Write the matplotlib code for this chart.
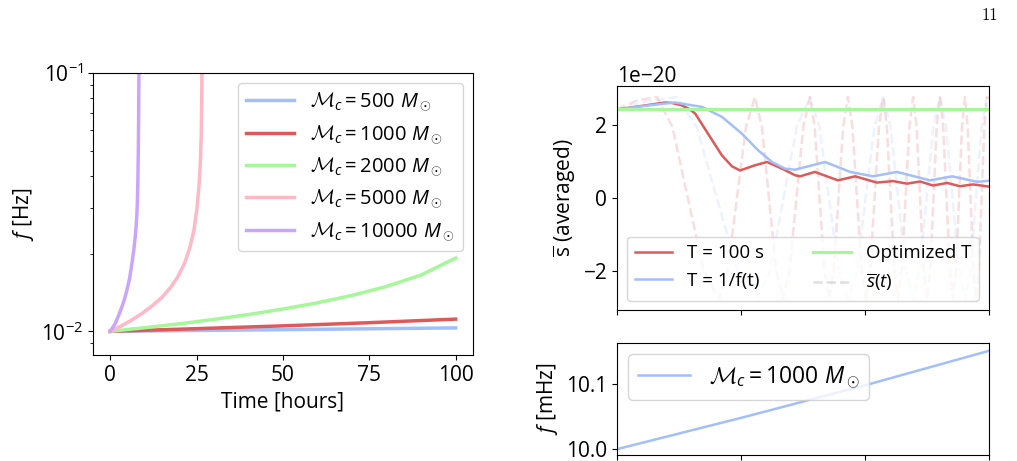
import matplotlib
matplotlib.use("Agg")
import matplotlib.pyplot as plt
from matplotlib.lines import Line2D
from matplotlib.ticker import NullFormatter
import numpy as np

plt.rcParams['font.family'] = ['Open Sans', 'DejaVu Sans']
plt.rcParams['mathtext.fontset'] = 'custom'
plt.rcParams['mathtext.rm'] = 'Open Sans'
plt.rcParams['mathtext.it'] = 'Open Sans:italic'
plt.rcParams['mathtext.bf'] = 'Open Sans:bold'
plt.rcParams['mathtext.cal'] = 'cmsy10'

# left panel: frequency evolution for several chirp masses
masses = [500, 1000, 2000, 5000, 10000]
colors = ['#a3bffa', '#dc5a5a', '#a6f79a', '#ffb8c6', '#c9a6fb']

t_500 = [0, 50, 100]
f_500 = [0.0100, 0.01015, 0.01031]
t_1000 = [0, 25, 50, 75, 100]
f_1000 = [0.0100, 0.01024, 0.01050, 0.01080, 0.01115]
t_2000 = [0, 10, 20, 30, 40, 50, 60, 70, 80, 90, 100]
f_2000 = [0.0100, 0.01033, 0.01069, 0.01112, 0.01161, 0.01220, 0.01289,
          0.01377, 0.01492, 0.01652, 0.01920]
t_5000 = [0, 3, 6, 9, 12, 15, 17.5, 19.5, 21.5, 23, 24.2, 25.1, 25.7, 26.1,
          26.35, 26.5, 26.58]
f_5000 = [0.0100, 0.01046, 0.01101, 0.01168, 0.01250, 0.01355, 0.01480,
          0.01620, 0.01830, 0.0210, 0.0245, 0.0298, 0.0365, 0.0450, 0.058,
          0.081, 0.12]
t_10000 = [0, 0.7, 1.45, 2.4, 3.38, 4.1, 4.83, 5.6, 6.28, 6.8, 7.24, 7.5,
           7.73, 7.9, 8.0, 8.15, 8.25, 8.35]
f_10000 = [0.0100, 0.01034, 0.01071, 0.0115, 0.01242, 0.0133, 0.01442,
           0.0160, 0.0183, 0.0205, 0.0232, 0.0255, 0.0285, 0.033, 0.038,
           0.052, 0.075, 0.12]

# upper right: averaged signal (units of 1e-20)
x_red = [0.00, 0.93, 1.94, 2.20, 2.62, 2.90, 3.15, 3.67, 4.23, 4.64, 4.96,
         5.56, 6.05, 6.65, 7.18, 7.38, 7.98, 8.91, 9.60, 10.48, 11.13, 11.69,
         12.22, 12.74, 13.31, 13.83, 14.35, 15.00]
s_red = [2.41, 2.50, 2.60, 2.59, 2.52, 2.43, 2.30, 1.75, 1.16, 0.86, 0.75,
         0.89, 0.98, 0.80, 0.62, 0.59, 0.71, 0.48, 0.59, 0.42, 0.46, 0.39,
         0.45, 0.34, 0.41, 0.32, 0.37, 0.31]
x_blue = [0, 1.25, 2.34, 3.43, 4.23, 5.04, 5.69, 6.25, 6.77, 7.18, 7.58,
          8.39, 9.40, 10.32, 11.29, 12.62, 13.51, 14.52, 15.0]
s_blue = [2.41, 2.52, 2.60, 2.48, 2.21, 1.75, 1.30, 0.98, 0.80, 0.77, 0.84,
          0.98, 0.71, 0.59, 0.71, 0.48, 0.59, 0.44, 0.47]
x_opt = [0, 15]
s_opt = [2.41, 2.41]

# instantaneous signal, read at peaks, troughs and their shoulders
x_sig_red = [0, 0.8, 1.61, 2.23, 3.48, 4.1, 4.47, 5.2, 5.56, 5.84, 6.41,
             6.69, 6.96, 7.51, 7.78, 7.97, 8.36, 8.55, 8.74, 9.12, 9.31,
             9.49, 9.86, 10.04, 10.21, 10.56, 10.73, 10.88, 11.18, 11.33,
             11.48, 11.79, 11.94, 12.08, 12.36, 12.50, 12.63, 12.89, 13.02,
             13.15, 13.42, 13.55, 13.67, 13.91, 14.03, 14.14, 14.37, 14.48,
             14.59, 14.81, 14.92, 15.0]
s_sig_red = [2.41, 2.65, 2.75, 1.94, -1.94, -2.75, -1.94, 1.94, 2.75, 1.94,
             -1.94, -2.75, -1.94, 1.94, 2.75, 1.94, -1.94, -2.75, -1.94, 1.94,
             2.75, 1.94, -1.94, -2.75, -1.94, 1.94, 2.75, 1.94, -1.94, -2.75,
             -1.94, 1.94, 2.75, 1.94, -1.94, -2.75, -1.94, 1.94, 2.75, 1.94,
             -1.94, -2.75, -1.94, 1.94, 2.75, 1.94, -1.94, -2.75, -1.94, 1.94,
             2.75, 2.72]
x_sig_blue = [0, 1.2, 2.4, 3.21, 4.84, 5.65, 6.18, 7.25, 7.78, 8.16, 8.93,
              9.31, 9.67, 10.38, 10.73, 11.03, 11.64, 11.94, 12.21, 12.75,
              13.02, 13.27, 13.78, 14.03, 14.25, 14.70, 14.92, 15.0]
s_sig_blue = [2.41, 2.63, 2.75, 1.94, -1.94, -2.75, -1.94, 1.94, 2.75, 1.94,
              -1.94, -2.75, -1.94, 1.94, 2.75, 1.94, -1.94, -2.75, -1.94, 1.94,
              2.75, 1.94, -1.94, -2.75, -1.94, 1.94, 2.75, 2.74]

# lower right: frequency of 1000 Msun source (mHz)
x_f = [0, 5, 10, 15]
f_mhz = [10.000, 10.048, 10.098, 10.151]

fig = plt.figure(figsize=(10.17, 4.61), dpi=100)

ax1 = fig.add_axes([0.0914, 0.23, 0.3736, 0.6117])
series = [(t_500, f_500), (t_1000, f_1000), (t_2000, f_2000),
          (t_5000, f_5000), (t_10000, f_10000)]
for (t, f), m, c in zip(series, masses, colors):
    ax1.plot(t, f, color=c, lw=2.5, label=r'$\mathcal{M}_c = %d\ M_\odot$' % m)
ax1.set_yscale('log')
ax1.set_ylim(0.0081, 0.1)
ax1.set_xlim(-5, 105)
ax1.set_xticks([0, 25, 50, 75, 100])
ax1.yaxis.set_minor_formatter(NullFormatter())
ax1.set_xlabel('Time [hours]', fontsize=15)
ax1.set_ylabel(r'$f$ [Hz]', fontsize=15)
ax1.tick_params(labelsize=15)
ax1.legend(fontsize=14.5, handlelength=2.4, loc='upper right')

ax2 = fig.add_axes([0.6067, 0.3275, 0.3658, 0.486])
ax2.plot(x_sig_red, np.array(s_sig_red) * 1e-20, color='#dc5a5a', ls='--',
         lw=1.8, alpha=0.2)
ax2.plot(x_sig_blue, np.array(s_sig_blue) * 1e-20, color='#a3bffa', ls='--',
         lw=1.8, alpha=0.2)
h1, = ax2.plot(x_red, np.array(s_red) * 1e-20, color='#dc5a5a', lw=1.8)
h2, = ax2.plot(x_blue, np.array(s_blue) * 1e-20, color='#a3bffa', lw=1.8)
h3, = ax2.plot(x_opt, np.array(s_opt) * 1e-20, color='#a6f79a', lw=2.2)
h4 = Line2D([], [], color='#b0b0b0', ls='--', lw=1.8, alpha=0.4)
ax2.set_xlim(0, 15)
ax2.set_ylim(-3.05e-20, 3.05e-20)
ax2.set_xticks([0, 5, 10, 15])
ax2.set_yticks([-2e-20, 0, 2e-20])
ax2.tick_params(labelsize=15, labelbottom=False)
ax2.yaxis.get_offset_text().set_fontsize(15)
ax2.set_ylabel(r'$\overline{\mathrm{s}}$ (averaged)', fontsize=15)
ax2.legend([h1, h2, h3, h4], ['T = 100 s', 'T = 1/f(t)', 'Optimized T',
                              r'$\overline{s}(t)$'],
           ncol=2, fontsize=13.5, loc='lower center', columnspacing=2.6)

ax3 = fig.add_axes([0.6067, 0.013, 0.3658, 0.243])
ax3.plot(x_f, f_mhz, color='#a3bffa', lw=1.8,
         label=r'$\mathcal{M}_c = 1000\ M_\odot$')
ax3.set_xlim(0, 15)
ax3.set_ylim(9.991, 10.163)
ax3.set_xticks([0, 5, 10, 15])
ax3.set_yticks([10.0, 10.1])
ax3.tick_params(labelsize=15, labelbottom=False)
ax3.set_ylabel(r'$f$ [mHz]', fontsize=15)
ax3.legend(fontsize=16.5, loc='upper left', handlelength=2.3)

fig.text(0.9735, 0.967, '11', family='cmr10', fontsize=12, ha='center', va='center')

fig.savefig('out.png', dpi=100)
